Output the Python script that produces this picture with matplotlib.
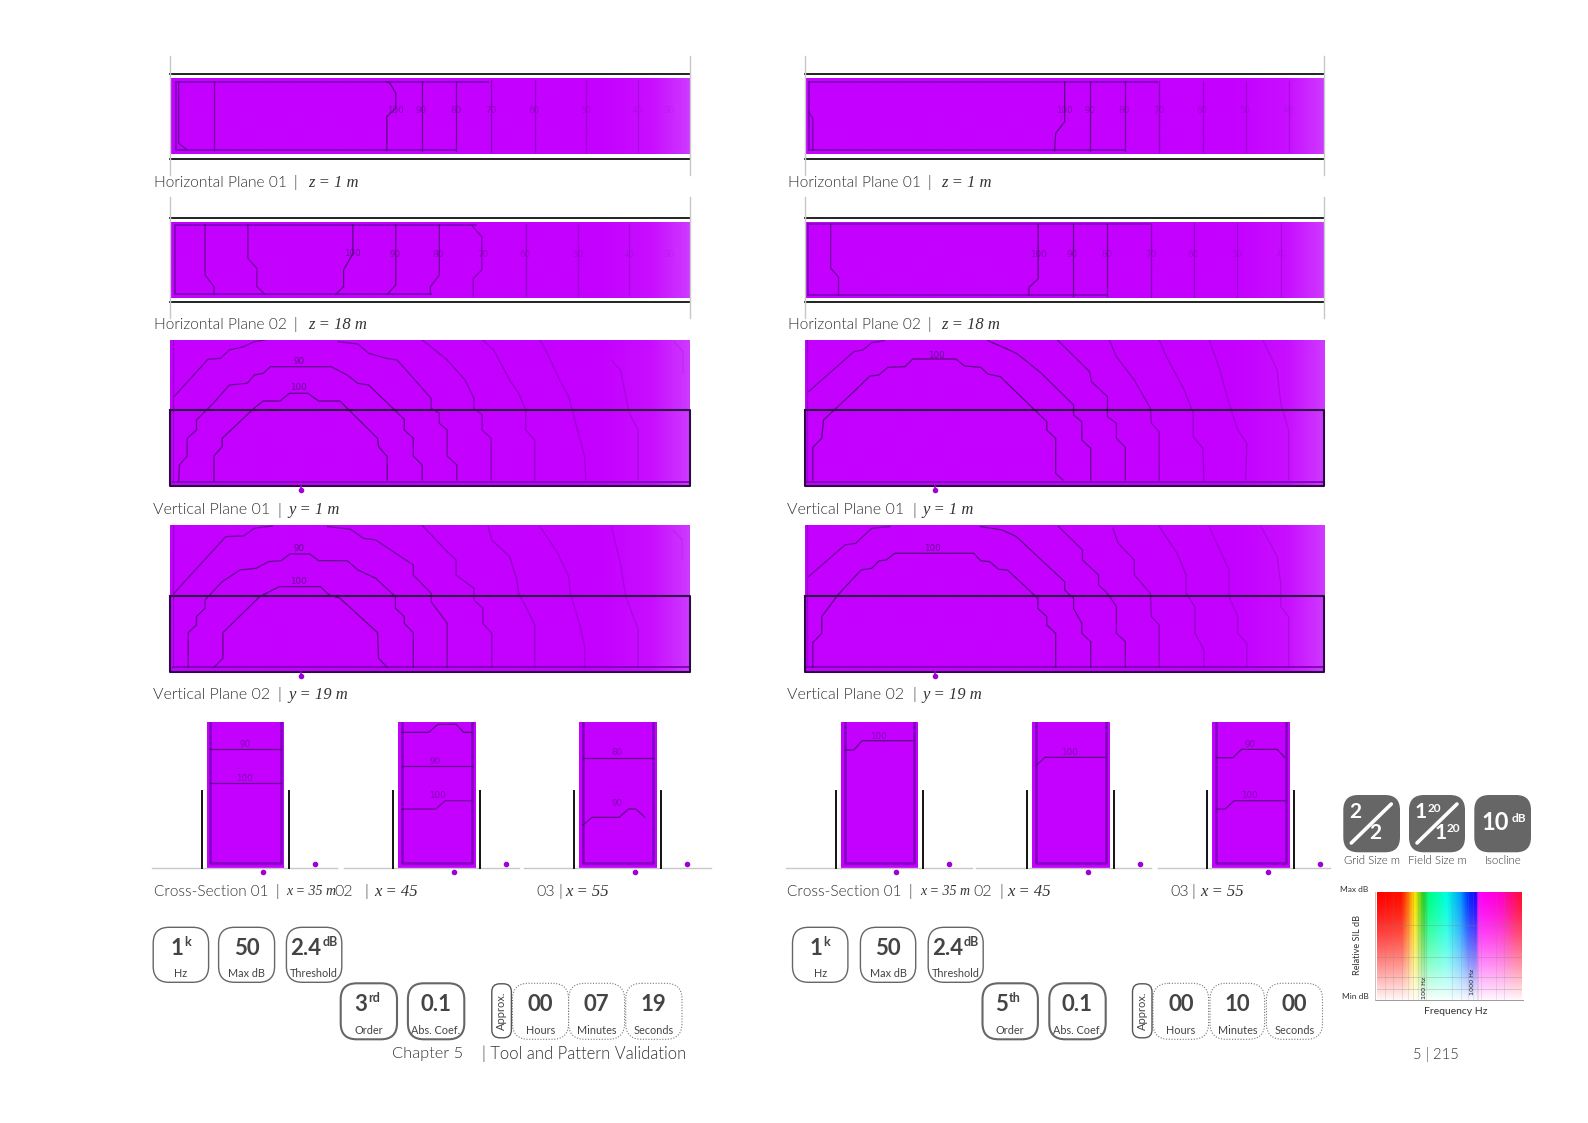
import numpy as np
import matplotlib
matplotlib.use("Agg")
import matplotlib.pyplot as plt
from matplotlib import font_manager as fm
from matplotlib.colors import LinearSegmentedColormap, to_rgb
from matplotlib.patches import FancyBboxPatch

W, H = 1588, 1123
SANS = "Lato"
SERIF = "Liberation Serif"
INK = "#333333"
BADGE = "#444444"
MAGENTA = "#C400FF"
EDGE = "#8000BC"
LINE = "#4A0A70"
LEVEL_ALPHA = [0.85, 0.8, 0.7, 0.55, 0.4, 0.3, 0.22, 0.14, 0.1]

# a light cut of Lato for the captions, when the install has one
_light = [f.fname for f in fm.fontManager.ttflist
          if f.name.startswith("Lato") and "light" in f.fname.lower() and "italic" not in f.fname.lower()
          and "hair" not in f.fname.lower()]
if _light:
    LIGHT = fm.FontProperties(fname=sorted(_light, key=len)[0])
else:
    LIGHT = fm.FontProperties(family="Lato")

# contour readings: each panel's axis runs over the reading range given with it
LH1 = [[(691,332),(691,230),(716,205),(716,160),(700,130),(690,125)],
       [(789,127),(789,332)], [(885,127),(885,332)], [(982,120),(982,335)],
       [(1105,120),(1105,335)], [(1248,120),(1248,335)], [(1393,120),(1393,335)]]
LH1_EXTRA = [[(207,127),(207,330)], [(108,127),(108,310),(130,328)]]
LH1_TEXT = [("100",714,212),("90",787,212),("80",885,212),("70",982,212),("60",1103,212),("50",1248,212),("40",1393,212),("30",1480,212)]

LH2 = [[(596,555),(596,640),(570,690),(570,740),(548,763)],
       [(716,555),(716,735),(692,763)], [(838,555),(838,705),(813,740),(813,763)],
       [(930,558),(957,590),(957,690),(933,715),(933,768)],
       [(1080,552),(1080,768)], [(1226,552),(1226,768)], [(1370,552),(1370,768)]]
LH2_EXTRA = [[(182,555),(182,705),(207,740),(207,763)], [(302,555),(302,655),(327,685),(327,740),(350,763)]]
LH2_TEXT = [("100",594,640),("90",714,644),("80",835,644),("70",960,644),("60",1078,644),("50",1226,644),("40",1370,644),("30",1480,644)]

RH1 = [[(825,127),(825,245),(800,280),(797,332)], [(895,127),(895,332)], [(993,127),(993,332)],
       [(1090,122),(1090,335)], [(1212,122),(1212,335)], [(1333,122),(1333,335)], [(1452,122),(1452,335)]]
RH1_EXTRA = [[(108,215),(120,235),(120,329)]]
RH1_TEXT = [("100",825,212),("90",895,212),("80",991,212),("70",1090,212),("60",1210,212),("50",1331,212),("40",1452,212)]

RH2 = [[(751,555),(751,715),(725,740),(725,763)], [(848,555),(848,765)], [(945,555),(945,765)],
       [(1067,552),(1067,768)], [(1187,552),(1187,768)], [(1308,552),(1308,768)], [(1430,552),(1430,768)]]
RH2_EXTRA = [[(170,555),(170,683),(192,710),(192,763)]]
RH2_TEXT = [("100",751,644),("90",846,644),("80",943,644),("70",1067,644),("60",1185,644),("50",1306,644),("40",1430,644)]

LV1 = [[(207,455),(207,378),(230,350),(230,325),(322,232),(345,213),(392,213),(418,190),(470,190),(500,213),(560,213),(580,235),(665,325),(668,350),(692,380),(692,450)],
       [(108,455),(110,405),(132,378),(132,325),(158,300),(158,270),(205,220),(250,165),(300,160),(320,135),(345,130),(365,110),(535,110),(580,135),(610,160),(640,165),(740,268),(740,300),(765,325),(765,378),(790,405),(790,450)],
       [(555,35),(610,42),(640,70),(690,85),(720,90),(815,205),(815,235),(838,250),(838,280),(860,300),(860,378),(887,405),(887,450)],
       [(790,30),(820,55),(860,90),(910,150),(935,205),(935,235),(958,255),(958,300),(983,325),(983,450)],
       [(960,30),(990,60),(1035,150),(1060,190),(1080,240),(1080,300),(1105,330),(1105,450)],
       [(1120,30),(1140,70),(1175,150),(1200,200),(1225,300),(1245,380),(1248,450)],
       [(1320,90),(1345,120),(1370,250),(1395,300),(1395,450)],
       [(1495,35),(1520,65),(1520,130)]]
LV1_EXTRA = [[(95,200),(190,88),(225,85),(250,60),(290,50),(320,35),(350,30)]]
LV1_TEXT = [("100",444,172),("90",444,95)]

LV2 = [[(207,1012),(232,985),(232,908),(335,800),(390,770),(505,770),(530,795),(560,805),(665,908),(668,985),(692,1012)],
       [(135,1012),(135,908),(158,885),(158,860),(182,835),(182,810),(230,755),(280,720),(325,715),(360,695),(395,692),(420,672),(475,672),(500,692),(580,692),(610,720),(660,745),(715,800),(715,835),(740,860),(740,880),(765,908),(765,1012)],
       [(525,590),(590,598),(625,625),(660,630),(765,705),(765,735),(815,790),(815,815),(860,880),(860,1012)],
       [(790,586),(860,665),(885,690),(885,735),(935,775),(935,810),(960,835),(960,880),(985,910),(985,1012)],
       [(975,590),(985,630),(1035,680),(1055,750),(1060,790),(1080,830),(1105,885),(1105,1012)],
       [(1120,590),(1170,670),(1200,740),(1205,790),(1230,880),(1245,950),(1245,1012)],
       [(1320,590),(1345,700),(1360,800),(1395,900),(1395,1012)],
       [(1492,600),(1518,630),(1518,690)]]
LV2_EXTRA = [[(95,790),(240,620),(290,618),(320,595),(370,588)]]
LV2_TEXT = [("100",444,755),("90",444,655)]

RV1 = [[(820,450),(800,430),(800,325),(775,300),(775,275),(645,140),(610,132),(590,112),(545,108),(520,87),(400,87),(378,110),(330,112),(305,135),(280,138),(230,190),(150,270),(145,325),(120,352),(120,450)],
       [(898,450),(898,355),(873,330),(873,275),(850,255),(850,225),(760,130),(720,95),(690,70),(660,55),(610,32)],
       [(805,30),(895,125),(900,155),(945,200),(945,260),(970,280),(970,325),(995,352),(995,450)],
       [(950,30),(970,80),(1020,150),(1065,235),(1068,280),(1090,305),(1090,450)],
       [(1090,30),(1110,80),(1160,180),(1185,250),(1185,320),(1212,355),(1215,450)],
       [(1230,30),(1260,120),(1285,220),(1310,300),(1335,340),(1332,450)],
       [(1380,30),(1420,120),(1430,220),(1452,300),(1452,450)]]
RV1_EXTRA = [[(108,185),(235,65),(260,60),(285,38),(320,32)]]
RV1_TEXT = [("100",465,75)]

RV2 = [[(800,1012),(800,910),(775,885),(775,860),(750,835),(750,805),(665,720),(640,718),(615,695),(590,692),(570,670),(350,670),(325,690),(305,693),(285,715),(255,720),(190,795),(145,860),(145,910),(120,938),(120,1012)],
       [(898,1012),(898,935),(873,910),(873,880),(850,835),(850,805),(825,780),(825,755),(740,670),(690,620),(650,600),(590,590)],
       [(808,590),(875,660),(875,690),(920,735),(920,765),(945,790),(970,830),(970,910),(995,935),(995,1012)],
       [(960,595),(975,640),(1020,690),(1020,735),(1065,790),(1068,860),(1090,885),(1090,1012)],
       [(1090,590),(1140,670),(1165,735),(1165,790),(1190,830),(1190,910),(1215,960),(1215,1012)],
       [(1230,590),(1285,720),(1285,800),(1310,860),(1310,910),(1335,940),(1335,1012)],
       [(1375,590),(1420,680),(1430,760),(1430,830),(1452,860),(1452,1012)]]
RV2_EXTRA = [[(108,740),(210,645),(240,640),(285,595),(335,590)]]
RV2_TEXT = [("100",455,655)]

LX1 = [[(190,148),(380,148)], [(190,248),(380,248)]]
LX1_TEXT = [("90",284,132),("100",283,235)]
LX2 = [[(708,97),(780,97),(805,73),(855,73),(875,97),(897,97)], [(708,199),(897,199)], [(708,327),(800,327),(825,302),(895,302)]]
LX2_TEXT = [("90",798,183),("100",803,285)]
LX3 = [[(1197,173),(1385,173)], [(1197,375),(1222,352),(1295,352),(1320,327),(1340,327),(1365,352)]]
LX3_TEXT = [("80",1288,158),("90",1290,310)]
RX1 = [[(210,150),(235,150),(258,122),(405,122)]]
RX1_TEXT = [("100",305,108)]
RX2 = [[(747,195),(770,172),(940,172)]]
RX2_TEXT = [("100",840,158)]
RX3 = [[(1250,173),(1297,173),(1320,148),(1420,148),(1442,173)], [(1250,327),(1275,327),(1300,302),(1442,302)]]
RX3_TEXT = [("90",1345,132),("100",1342,285)]

SPECTRUM_POS = [0, .17, .215, .26, .32, .355, .48, .575, .63, .685, .70, .85, 1]
SPECTRUM_COL = ["#ff0000","#ff1000","#ff7000","#ffe800","#20d020","#00ff80","#00ffe0","#00a0ff","#0030ff","#2000ff","#ff00ff","#ff00d0","#ff1030"]

fig = plt.figure(figsize=(W/100, H/100), dpi=100, facecolor="white")
page = fig.add_axes([0, 0, 1, 1])
page.set_xlim(0, W); page.set_ylim(H, 0); page.axis("off")
page.set_zorder(5)

def sub_axes(x0, x1, y0, y1):
    ax = fig.add_axes([x0/W, 1-y1/H, (x1-x0)/W, (y1-y0)/H])
    ax.axis("off")
    return ax

fade = LinearSegmentedColormap.from_list("fade", [(0, MAGENTA), (.82, MAGENTA), (.93, "#C80EFF"), (1, "#CE38FF")])

def field(ax, xr, yr):
    ax.imshow(np.linspace(0, 1, 300)[None, :], cmap=fade, aspect="auto", vmin=0, vmax=1,
              extent=[xr[0], xr[1], yr[1], yr[0]], zorder=0)
    ax.set_xlim(*xr); ax.set_ylim(*yr)

def draw_lines(ax, lines, extra, labels):
    for i, l in enumerate(lines):
        a = np.array(l)
        ax.plot(a[:, 0], a[:, 1], color=LINE, lw=.9, alpha=LEVEL_ALPHA[i], zorder=3, solid_joinstyle="miter")
    for l in extra:
        a = np.array(l)
        ax.plot(a[:, 0], a[:, 1], color=LINE, lw=.9, alpha=.7, zorder=3)
    for s, x, y in labels:
        frac = (x-xr_now[0])/(xr_now[1]-xr_now[0])
        ax.text(x, y, s, fontsize=6.3, color=LINE, alpha=max(.12, 1.0-frac*0.95), ha="center", va="center",
                family="DejaVu Sans", zorder=4)

def plan(x0, x1, xr, yr, py, black, grey, lines, extra, labels, frame):
    global xr_now
    xr_now = xr
    ax = sub_axes(x0, x1, py[0], py[1])
    field(ax, xr, yr)
    ax.plot([frame[0], frame[1]], [frame[3], frame[3]], color=EDGE, lw=1.3, zorder=2)
    ax.plot([frame[0], frame[2]], [frame[4], frame[4]], color=EDGE, lw=1.3, zorder=2)
    ax.plot([frame[0], frame[0]], [frame[3], frame[4]], color=EDGE, lw=1.3, zorder=2)
    draw_lines(ax, lines, extra, labels)
    for b in black:
        page.plot([x0, x1], [b, b], color="#111111", lw=1.3)
    for gx in (x0, x1):
        page.plot([gx, gx], grey, color="#c8c8c8", lw=1)

def section(x0, x1, xr, yr, py, rect, inner, lines, extra, labels, dot_x):
    global xr_now
    xr_now = xr
    ax = sub_axes(x0, x1, py[0], py[1])
    field(ax, xr, yr)
    draw_lines(ax, lines, extra, labels)
    ax.plot([xr[0]+8, xr[1]], [inner, inner], color=EDGE, lw=1.3, zorder=2)
    ax.plot([xr[0]+8, xr[0]+8], [inner, yr[1]], color=EDGE, lw=.9, alpha=.7, zorder=2)
    page.plot([x0, x1, x1, x0, x0], [rect, rect, py[1], py[1], rect], color="#2a0a40", lw=1.5, zorder=5)
    page.plot([dot_x, dot_x], [py[1], py[1]+4], color="#A000D8", lw=1.2, zorder=6)
    page.plot([dot_x], [py[1]+4], "o", color="#A000D8", ms=3, zorder=6)

def cross(x0, x1, xr, lines, labels, walls, ground, dots):
    global xr_now
    xr_now = (xr[0]-1500, xr[1]+1500)
    ax = sub_axes(x0, x1, 721.7, 867.7)
    ax.add_patch(plt.Rectangle((xr[0], 65), xr[1]-xr[0], 438, color=MAGENTA, lw=0, zorder=0))
    ax.set_xlim(*xr); ax.set_ylim(503, 65)
    ax.plot([xr[0]+10, xr[0]+10, xr[1]-10, xr[1]-10], [65, 490, 490, 65], color=EDGE, lw=1.8, zorder=2)
    draw_lines(ax, lines, [], [(s, x, y) for s, x, y in labels])
    for wx in walls:
        page.plot([wx, wx], [791, 867.7], color="#111111", lw=1.4, zorder=3)
    page.plot(ground, [868.3, 868.3], color="#c8c8c8", lw=1, zorder=1)
    page.plot(dots, [872, 863.7], "o", color="#A000D8", ms=3, zorder=6, ls="none")

def label(x, y, plain, pipe_x, italic_x, italic, fs=11.2, size=12):
    page.text(x, y, plain, fontproperties=LIGHT, fontsize=fs, color=INK, va="center", ha="left")
    page.text(pipe_x, y, "|", fontproperties=LIGHT, fontsize=fs, color=INK, va="center", ha="center")
    page.text(italic_x, y, italic, family=SERIF, style="italic", fontsize=size, color=INK, va="center", ha="left")

def badge(x0, x1, y0, y1, big, sup, small, style="solid", lw=1.0, edge="#666666"):
    page.add_patch(FancyBboxPatch((x0, y0), x1-x0, y1-y0, boxstyle="round,pad=0,rounding_size=16",
                                  fc="white", ec=edge, lw=lw, ls=style))
    cx = (x0+x1)/2
    t = page.text(cx - (len(sup)*4.2), y0+21, big, family=SANS, fontweight="bold", fontsize=16, color=BADGE, ha="center", va="center")
    if sup:
        bb = t.get_window_extent(fig.canvas.get_renderer())
        page.text(bb.x1+1, y0+14.5, sup, family=SANS, fontweight="bold", fontsize=9, color=BADGE, ha="left", va="center")
    page.text(cx, y0+(46 if y0 < 950 else 47.5), small, family=SANS, fontsize=7.8, color=BADGE, ha="center", va="center")

# ---- plan views
LX0, LX1_PX = 170.4, 690.4
RX0, RX1_PX = 804.6, 1324.3
plan(LX0, LX1_PX, (85, 1541), (342, 115), (78.3, 154), (73.5, 158.5), (56, 175), LH1, LH1_EXTRA, LH1_TEXT, (100, 975, 885, 127, 329))
plan(LX0, LX1_PX, (85, 1541), (775, 545), (221.7, 298.3), (217.7, 302.3), (197, 318), LH2, LH2_EXTRA, LH2_TEXT, (97, 940, 815, 555, 763))
plan(RX0, RX1_PX, (97, 1552), (342, 115), (78.3, 154), (73.5, 158.5), (56, 175), RH1, RH1_EXTRA, RH1_TEXT, (108, 1085, 990, 127, 329))
plan(RX0, RX1_PX, (97, 1552), (772, 547), (221.7, 298.3), (217.7, 302.3), (197, 318), RH2, RH2_EXTRA, RH2_TEXT, (107, 1060, 945, 555, 763))

# ---- vertical planes
section(LX0, LX1_PX, (85, 1541), (468, 30), (340, 486), 410, 455, LV1, LV1_EXTRA, LV1_TEXT, 300.7)
section(LX0, LX1_PX, (85, 1541), (1026, 586), (525.3, 672), 595.7, 1012, LV2, LV2_EXTRA, LV2_TEXT, 300.7)
section(RX0, RX1_PX, (97, 1552), (468, 30), (340, 486), 410, 455, RV1, RV1_EXTRA, RV1_TEXT, 934.6)
section(RX0, RX1_PX, (97, 1552), (1026, 586), (525.3, 672), 595.7, 1012, RV2, RV2_EXTRA, RV2_TEXT, 934.6)

# ---- cross sections
cross(206.6, 284.3, (180, 390), LX1, LX1_TEXT, (202.2, 289), (151.8, 337), (263, 315))
cross(397.9, 475.9, (697, 908), LX2, LX2_TEXT, (393, 480.4), (344, 519), (454, 506))
cross(578.8, 656.5, (1186, 1396), LX3, LX3_TEXT, (574.3, 660.9), (524, 711), (635, 686.8))
cross(841, 918, (199, 415), RX1, RX1_TEXT, (836, 923), (786, 972), (896.4, 949))
cross(1032, 1109.6, (734, 951), RX2, RX2_TEXT, (1027, 1114), (976, 1151), (1088, 1140))
cross(1212, 1289.6, (1238, 1455), RX3, RX3_TEXT, (1207, 1294), (1158, 1330), (1268, 1320))

# ---- captions
for off, px, ix in ((154, 295, 308), (788, 929, 941)):
    label(off, 182.7, "Horizontal Plane 01", px, ix, "z = 1 m")
    label(off, 324.7, "Horizontal Plane 02", px, ix, "z = 18 m")
for off, px, ix in ((153, 279, 288), (787, 914, 922)):
    label(off, 510, "Vertical Plane 01", px, ix, "y = 1 m", fs=11.5)
    label(off, 695, "Vertical Plane 02", px, ix, "y = 19 m", fs=11.5)
for xs in ((153.7, 277.6, 286, 334, 366.4, 374, 536.6, 560, 565), (787, 910, 920, 973.6, 1001.4, 1007.5, 1170.7, 1193, 1200)):
    label(xs[0], 891.7, "Cross-Section 01", xs[1], xs[2], "x = 35 m", fs=11.1, size=10)
    label(xs[3], 891.7, "02", xs[4], xs[5], "x = 45", fs=11.5)
    label(xs[6], 891.7, "03", xs[7], xs[8], "x = 55", fs=11.5)
page.text(391.8, 1054, "Chapter 5", fontproperties=LIGHT, fontsize=11.8, color=INK, va="center")
page.text(482, 1054, "| Tool and Pattern Validation", fontproperties=LIGHT, fontsize=12, color=INK, va="center")
page.text(1436, 1055, "5 | 215", fontproperties=LIGHT, fontsize=10.6, color=INK, va="center", ha="center")

# ---- parameter badges
T0, T1 = 927.3, 982.3
S0, S1 = 983.3, 1039.3
for col in ((153.2, 208.6, 218.6, 274.6, 286.4, 341.8), (792.5, 847.9, 860.4, 915.7, 928.2, 983.2)):
    badge(col[0], col[1], T0, T1, "1", "k", "Hz")
    badge(col[2], col[3], T0, T1, "50", "", "Max dB")
    badge(col[4], col[5], T0, T1, "2.4", "dB", "Threshold")
badge(340.7, 397, S0, S1, "3", "rd", "Order", lw=1.5)
badge(407.9, 464.3, S0, S1, "0.1", "", "Abs. Coef.", lw=1.5)
badge(982.5, 1037.9, S0, S1, "5", "th", "Order", lw=1.5)
badge(1049.3, 1105.7, S0, S1, "0.1", "", "Abs. Coef.", lw=1.5)
for x0, x1, big, small in ((512.5, 568.6, "00", "Hours"), (568.6, 624.6, "07", "Minutes"), (625.7, 682, "19", "Seconds"),
                           (1153, 1208.6, "00", "Hours"), (1210, 1264.6, "10", "Minutes"), (1266.4, 1322.5, "00", "Seconds")):
    badge(x0, x1, S0, S1, big, "", small, style=(0, (1, 1.5)), lw=.8, edge="#777777")
for x0, x1 in ((491.8, 511.4), (1132.5, 1152)):
    page.add_patch(FancyBboxPatch((x0, S0+.5), x1-x0, 54, boxstyle="round,pad=0,rounding_size=8", fc="white", ec="#555555", lw=1))
    page.text((x0+x1)/2, S0+27.5, "Approx.", family=SANS, fontsize=8, color=BADGE, rotation=90, ha="center", va="center")

# ---- grey settings badges
for (x0, x1), cap in zip(((1343.3, 1400), (1409, 1465), (1474.3, 1531)), ("Grid Size m", "Field Size m", "Isocline")):
    page.add_patch(FancyBboxPatch((x0, 795), x1-x0, 57.3, boxstyle="round,pad=0,rounding_size=15", fc="#666666", ec="none"))
    page.text((x0+x1)/2, 861, cap, fontproperties=LIGHT, fontsize=8.2, color=INK, ha="center", va="center")
for x0 in (1343.3, 1409):
    page.plot([x0+8, x0+48], [843, 804], color="white", lw=2.6, solid_capstyle="round")
page.text(1355, 812, "2", family=SANS, fontweight="bold", fontsize=15, color="white", ha="center", va="center")
page.text(1375, 833, "2", family=SANS, fontweight="bold", fontsize=15, color="white", ha="center", va="center")
page.text(1421, 812, "1", family=SANS, fontweight="bold", fontsize=15, color="white", ha="center", va="center")
page.text(1434, 808, "20", family=SANS, fontweight="bold", fontsize=8.5, color="white", ha="center", va="center")
page.text(1441, 833, "1", family=SANS, fontweight="bold", fontsize=15, color="white", ha="center", va="center")
page.text(1453, 829, "20", family=SANS, fontweight="bold", fontsize=8.5, color="white", ha="center", va="center")
page.text(1495, 823, "10", family=SANS, fontweight="bold", fontsize=17, color="white", ha="center", va="center")
page.text(1519, 819, "dB", family=SANS, fontweight="bold", fontsize=8.5, color="white", ha="center", va="center")

# ---- spectrum legend
spec = sub_axes(1377.3, 1521.7, 892.3, 1000)
rgb = np.array([np.interp(np.linspace(0, 1, 400), SPECTRUM_POS, [to_rgb(c)[k] for c in SPECTRUM_COL]) for k in range(3)]).T
vert = np.linspace(0, 1, 120)[:, None, None]**1.4
img = rgb[None, :, :]*(1-vert*.97) + vert*.97
spec.imshow(img, aspect="auto", extent=[0, 1, 0, 1])
spec.set_xlim(0, 1); spec.set_ylim(0, 1)
for yy in (.70, .40, .215, .105):
    spec.axhline(yy, color="#808080", lw=.5, alpha=.4)
for xx in (.05, .11, .17, .21, .25, .28, .30, .32, .34, .52, .58, .63, .66, .69, .70, .72, .82, .88):
    spec.axvline(xx, color="#808080", lw=.4, alpha=.3)
page.plot([1375, 1523], [999.5, 999.5], color="#999999", lw=.7)
page.plot([1375, 1375], [892, 1000], color="#bbbbbb", lw=.6)
page.text(1354, 889, "Max dB", family=SANS, fontsize=6, color=INK, ha="center", va="center")
page.text(1355.7, 996.7, "Min dB", family=SANS, fontsize=6, color=INK, ha="center", va="center")
page.text(1358, 945, "Relative SIL dB", family=SANS, fontsize=6.6, color=INK, rotation=90, ha="center", va="center")
page.text(1455.7, 1011, "Frequency Hz", family=SANS, fontsize=7.5, color=INK, ha="center", va="center")
page.text(1425, 988, "100 Hz", family="DejaVu Sans", fontsize=4.6, color="#222222", rotation=90, ha="center", va="center")
page.text(1473, 982, "1000 Hz", family="DejaVu Sans", fontsize=4.6, color="#222222", rotation=90, ha="center", va="center")

fig.savefig("out.png", dpi=100, facecolor="white")
